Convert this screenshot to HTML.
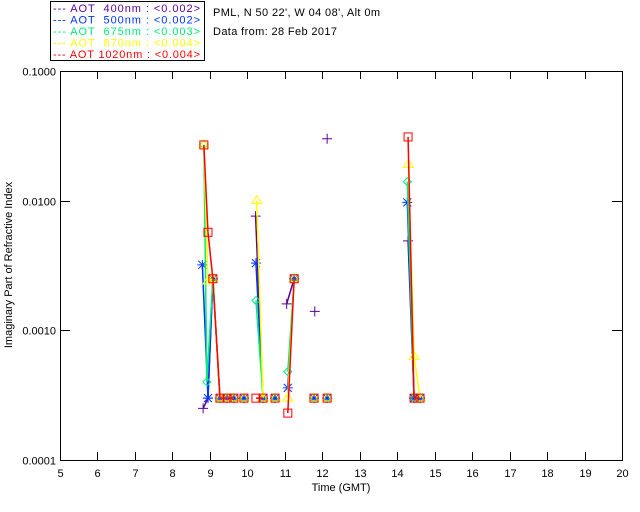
<!DOCTYPE html>
<html><head><meta charset="utf-8"><style>
body{margin:0;background:#fff}
svg{display:block;font-family:"Liberation Sans",sans-serif}
</style></head><body>
<svg id="chart" width="640" height="512" xmlns="http://www.w3.org/2000/svg">
<rect width="640" height="512" fill="#fff"/>
<g>
<rect x="50.5" y="1.5" width="154" height="59" fill="none" stroke="#000"/>
<g font-size="11">
<text x="53" y="12" fill="#5b0096" textLength="147" lengthAdjust="spacing">--- AOT &#160;400nm : &lt;0.002&gt;</text>
<text x="53" y="23.5" fill="#0033ff" textLength="147" lengthAdjust="spacing">--- AOT &#160;500nm : &lt;0.002&gt;</text>
<text x="53" y="35" fill="#00ee77" textLength="147" lengthAdjust="spacing">--- AOT &#160;675nm : &lt;0.003&gt;</text>
<text x="53" y="46.5" fill="#ffff00" textLength="147" lengthAdjust="spacing">--- AOT &#160;870nm : &lt;0.004&gt;</text>
<text x="53" y="58" fill="#ff0000" textLength="147" lengthAdjust="spacing">--- AOT 1020nm : &lt;0.004&gt;</text>
</g></g>
<text x="213" y="16" font-size="11" textLength="167" lengthAdjust="spacing">PML, N 50 22', W 04 08', Alt 0m</text>
<text x="213" y="35" font-size="11" textLength="124" lengthAdjust="spacing">Data from: 28 Feb 2017</text>
<g id="axes"></g>
<g id="series"></g>
<text x="341" y="491" font-size="11" text-anchor="middle">Time (GMT)</text>
<text transform="translate(12,265) rotate(-90)" font-size="11" text-anchor="middle">Imaginary Part of Refractive Index</text>
</svg>
<script>
const xTicks=[5,6,7,8,9,10,11,12,13,14,15,16,17,18,19,20];
const yTicks=[0.0001,0.001,0.01,0.1];
const yTickLabels=["0.0001","0.0010","0.0100","0.1000"];
const seriesNames=["400nm","500nm","675nm","870nm","1020nm"];
const seriesColors=["#5b0096","#0033ff","#00ee77","#ffff00","#ff0000"];
const F=0.0003;
const s400=[[8.82,0.00025],[8.95,F],[9.08,0.0025],[9.27,F],[9.46,F],[9.64,F],[9.91,F],[10.22,0.0076],[10.42,F],[10.74,F],[11.05,0.0016],[11.25,0.0025],[11.8,0.0014],[12.13,0.03],[14.29,0.0049],[14.45,F],[14.61,F]];
const s500=[[8.8,0.0032],[8.95,F],[9.08,0.0025],[9.27,F],[9.46,F],[9.64,F],[9.91,F],[10.23,0.0033],[10.42,F],[10.74,F],[11.08,0.00036],[11.25,0.0025],[11.78,F],[12.13,F],[14.27,0.0097],[14.45,F],[14.61,F]];
const s675=[[8.84,0.027],[8.92,0.0004],[9.08,0.0025],[9.27,F],[9.46,F],[9.64,F],[9.91,F],[10.23,0.0017],[10.42,F],[10.74,F],[11.08,0.00048],[11.25,0.0025],[11.78,F],[12.13,F],[14.27,0.014],[14.45,F],[14.61,F]];
const s870=[[8.84,0.027],[8.95,0.0024],[9.08,0.0025],[9.27,F],[9.46,F],[9.64,F],[9.91,F],[10.25,0.010],[10.42,F],[10.74,F],[11.08,F],[11.25,0.0025],[11.78,F],[12.13,F],[14.3,0.019],[14.45,0.00063],[14.61,F]];
const s1020=[[8.84,0.0269],[8.95,0.0057],[9.08,0.0025],[9.27,F],[9.46,F],[9.64,F],[9.91,F],[10.23,F],[10.42,F],[10.74,F],[11.08,0.00023],[11.25,0.0025],[11.78,F],[12.13,F],[14.29,0.031],[14.45,F],[14.61,F]];
const allSeries=[s400,s500,s675,s870,s1020];

const X0=60,X1=622,Y0=460,Y1=71;
const xs=t=>X0+(t-5)*(X1-X0)/15;
const ys=v=>Y0-(Math.log10(v)+4)*(Y0-Y1)/3;
const NS="http://www.w3.org/2000/svg";
function mk(tag,attrs,parent){const e=document.createElementNS(NS,tag);for(const k in attrs)e.setAttribute(k,attrs[k]);parent.appendChild(e);return e;}
const ax=document.getElementById('axes');
const frame=mk('rect',{x:X0+.5,y:Y1+.5,width:X1-X0,height:Y0-Y1,fill:'none',stroke:'#000'},ax);


xTicks.forEach(t=>{const x=Math.round(xs(t))+.5;
 mk('line',{x1:x,x2:x,y1:Y0,y2:Y0-8,stroke:'#000'},ax);
 mk('line',{x1:x,x2:x,y1:Y1,y2:Y1+8,stroke:'#000'},ax);
 const tx=mk('text',{x:x,y:Y0+17,'font-size':11,'text-anchor':'middle'},ax);tx.textContent=t;
 
 
});
yTicks.forEach((v,i)=>{const y=Math.round(ys(v))+.5;
 mk('line',{x1:X0,x2:X0+10,y1:y,y2:y,stroke:'#000'},ax);
 mk('line',{x1:X1-10,x2:X1,y1:y,y2:y,stroke:'#000'},ax);
 const tx=mk('text',{x:X0-4,y:y+4,'font-size':11,'text-anchor':'end'},ax);tx.textContent=yTickLabels[i];
 
 
});
const sg=document.getElementById('series');
function marker(k,x,y,c,g){
 if(k==0){mk('path',{d:`M${x-5} ${y}h10M${x} ${y-5}v10`,stroke:c,fill:'none'},g);}
 else if(k==1){mk('path',{d:`M${x-5} ${y}h10M${x} ${y-5}v10M${x-4} ${y-4}l8 8M${x-4} ${y+4}l8 -8`,stroke:c,fill:'none'},g);}
 else if(k==2){mk('path',{d:`M${x} ${y-4}l4 4l-4 4l-4 -4z`,stroke:c,fill:'none'},g);}
 else if(k==3){mk('path',{d:`M${x} ${y-5}l5 8h-10z`,stroke:c,fill:'none'},g);}
 else {mk('rect',{x:x-4,y:y-4,width:8,height:8,stroke:c,fill:'none'},g);}
}
allSeries.forEach((s,k)=>{
 const g=mk('g',{},sg);
 
 
 for(let i=1;i<s.length;i++){ if(s[i][0]-s[i-1][0]<0.25)
  mk('line',{x1:xs(s[i-1][0]),y1:ys(s[i-1][1]),x2:xs(s[i][0]),y2:ys(s[i][1]),stroke:seriesColors[k],'stroke-width':1.5},g);}
 s.forEach(p=>marker(k,xs(p[0]),ys(p[1]),seriesColors[k],g));
});
</script>
</body></html>
